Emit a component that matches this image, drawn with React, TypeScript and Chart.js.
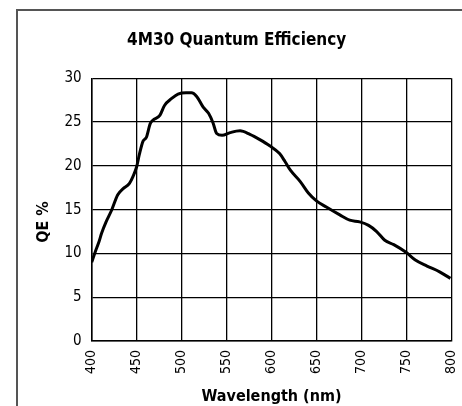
import React, { useEffect, useRef } from "react";
import { Chart, registerables } from "chart.js";

Chart.register(...registerables);

const wavelengths = [400, 404, 408, 411, 416, 422, 429, 435, 442, 446, 450, 453, 457, 461, 465, 468, 476, 481, 489, 496, 505, 511, 517, 524, 530, 535, 539, 545, 554, 565, 576, 587, 598, 609, 615, 621, 632, 641, 650, 661, 676, 687, 698, 708, 717, 726, 736, 750, 760, 773, 787, 799];
const qeValues = [9.0, 10.2, 11.3, 12.3, 13.6, 14.9, 16.7, 17.4, 18.0, 18.8, 19.9, 21.3, 22.8, 23.3, 24.8, 25.2, 25.8, 26.9, 27.7, 28.2, 28.35, 28.35, 27.9, 26.7, 26.0, 24.9, 23.7, 23.5, 23.8, 24.0, 23.6, 23.0, 22.3, 21.4, 20.5, 19.5, 18.2, 16.9, 16.0, 15.3, 14.4, 13.8, 13.6, 13.2, 12.5, 11.5, 11.0, 10.1, 9.25, 8.56, 7.9, 7.15];
const xTicks = [400, 450, 500, 550, 600, 650, 700, 750, 800];
const yTicks = [0, 5, 10, 15, 20, 25, 30];
const titleText = "4M30 Quantum Efficiency";
const xTitle = "Wavelength (nm)";
const yTitle = "QE %";

const FONT = "'Liberation Sans Narrow', 'DejaVu Sans Condensed', 'Arial Narrow', sans-serif";

export default function App() {
  const ref = useRef<HTMLCanvasElement | null>(null);
  useEffect(() => {
    if (!ref.current) return;
    const yTitlePlugin = {
      id: "yTitlePlugin",
      afterDraw(chart: any) {
        const ctx = chart.ctx;
        ctx.save();
        ctx.translate(44, 222);
        ctx.rotate(-Math.PI / 2);
        ctx.font = `bold 16px ${FONT}`;
        ctx.fillStyle = "#000";
        ctx.textAlign = "center";
        ctx.textBaseline = "middle";
        ctx.fillText(yTitle, 0, 0);
        ctx.restore();
      },
    };
    const chart = new Chart(ref.current, {
      type: "line",
      data: {
        datasets: [
          {
            data: wavelengths.map((w, i) => ({ x: w, y: qeValues[i] })),
            borderColor: "#000",
            borderWidth: 3,
            pointRadius: 0,
            cubicInterpolationMode: "monotone",
            fill: false,
          },
        ],
      },
      options: {
        animation: false,
        responsive: false,
        layout: { padding: { left: 22, right: 10.7, top: 0, bottom: 0 } },
        plugins: {
          legend: { display: false },
          tooltip: { enabled: false },
          title: {
            display: true,
            text: titleText,
            color: "#000",
            font: { family: FONT, size: 17, weight: "bold", lineHeight: 1.2 },
            padding: { top: 30, bottom: 27.9 },
          },
        },
        scales: {
          x: {
            type: "linear",
            min: 400,
            max: 800,
            afterFit: (s: any) => { s.height = 65; s.paddingLeft = 0; s.paddingRight = 0; },
            afterBuildTicks: (s: any) => { s.ticks = xTicks.map((v) => ({ value: v })); },
            grid: { color: "#000", lineWidth: 1.3, drawTicks: false },
            border: { color: "#000", width: 1.5 },
            ticks: {
              color: "#000",
              maxRotation: 90,
              minRotation: 90,
              padding: 9,
              font: { family: FONT, size: 14 },
            },
            title: {
              display: true,
              text: xTitle,
              color: "#000",
              font: { family: FONT, size: 16, weight: "bold", lineHeight: 1.0 },
              padding: { top: 0, bottom: 1 },
            },
          },
          y: {
            type: "linear",
            min: 0,
            max: 30,
            afterFit: (s: any) => { s.width = 69.7; },
            afterBuildTicks: (s: any) => { s.ticks = yTicks.map((v) => ({ value: v })); },
            grid: { color: "#000", lineWidth: 1.3, drawTicks: false },
            border: { color: "#000", width: 1.5 },
            ticks: {
              color: "#000",
              padding: 10,
              font: { family: FONT, size: 15 },
            },
          },
        },
      },
      plugins: [yTitlePlugin],
    } as any);
    return () => chart.destroy();
  }, []);
  return (
    <div style={{ position: "fixed", left: 0, top: 0, width: 462, height: 406, background: "#fff", overflow: "hidden" }}>
      <div style={{ position: "absolute", left: 16, top: 9, width: 600, height: 600, borderTop: "2px solid #555", borderLeft: "2px solid #555" }} />
      <canvas ref={ref} width={462} height={406} style={{ position: "absolute", left: 0, top: 0, width: 462, height: 406 }} />
    </div>
  );
}
